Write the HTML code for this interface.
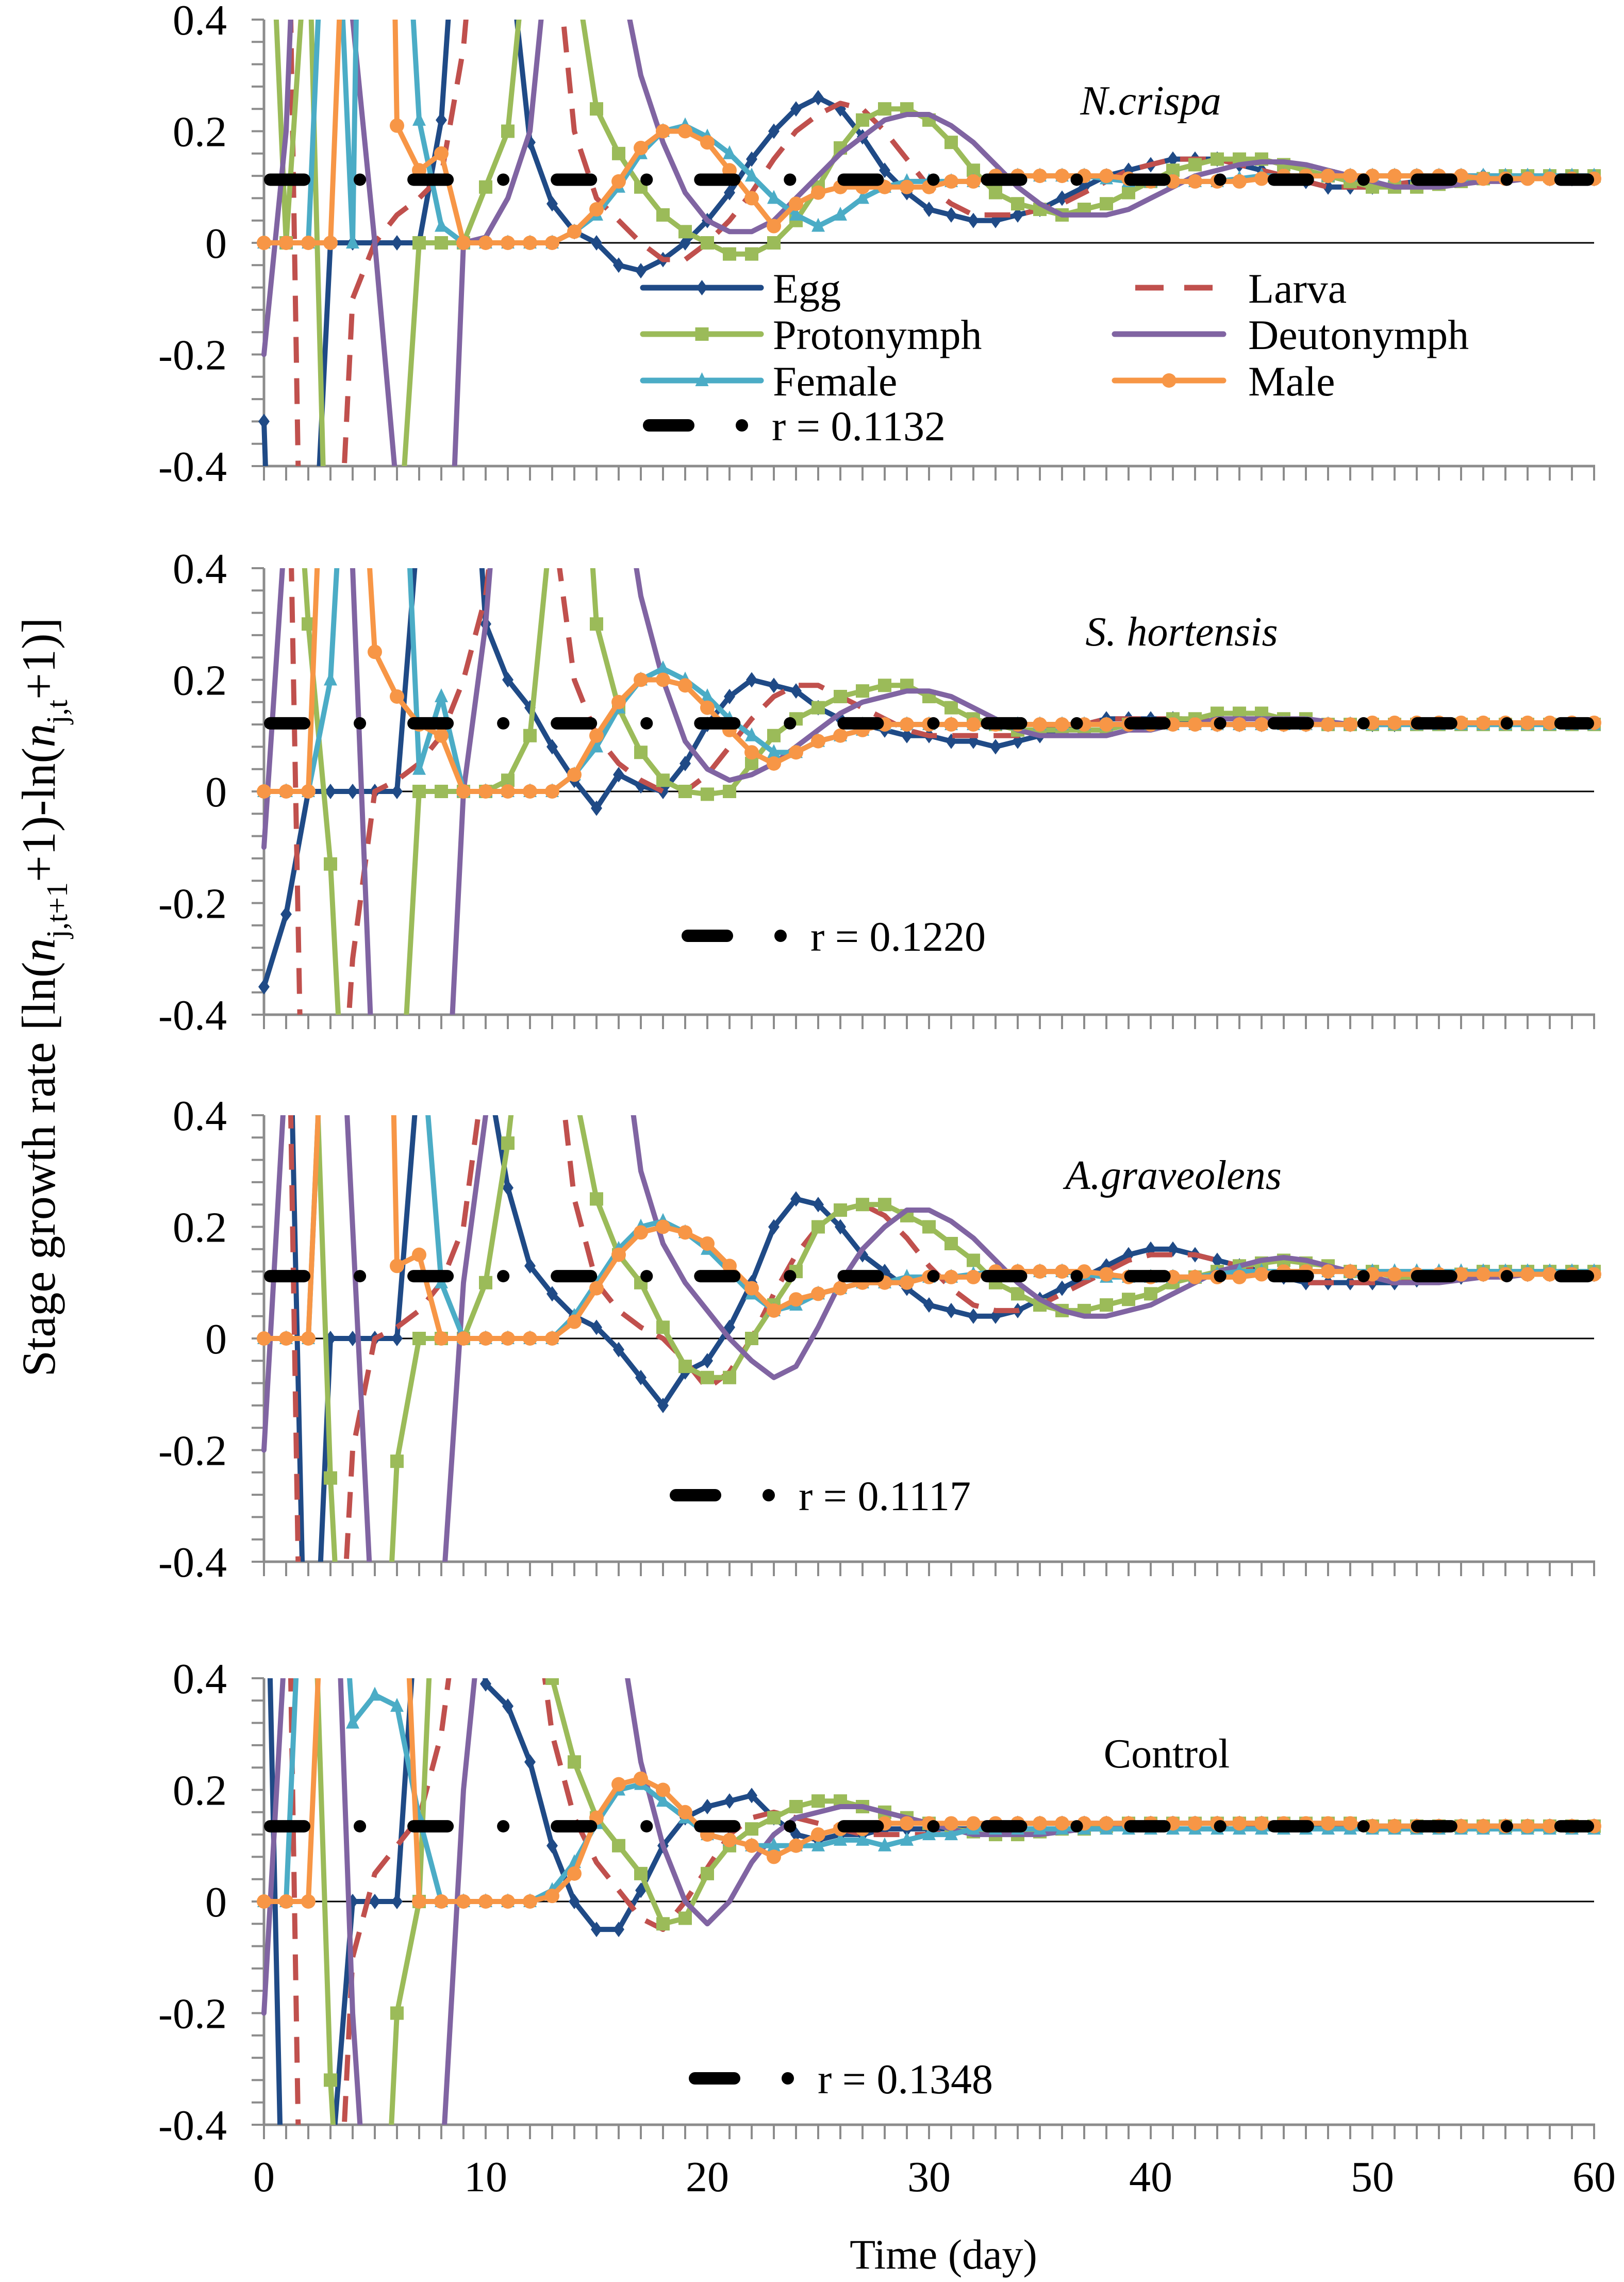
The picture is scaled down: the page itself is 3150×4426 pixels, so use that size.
<!DOCTYPE html>
<html><head><meta charset="utf-8">
<style>
html,body{margin:0;padding:0;background:#fff;width:3150px;height:4426px;overflow:hidden;}
svg{display:block;font-family:"Liberation Serif",serif;}
</style></head>
<body>
<svg id="chart" width="3150" height="4426" viewBox="0 0 3150 4426" xmlns="http://www.w3.org/2000/svg">
<text transform="translate(106,1934) rotate(-90)" text-anchor="middle" font-size="92" fill="#000">Stage growth rate [ln(<tspan font-style="italic">n</tspan><tspan font-size="58" dy="24">j,t+1</tspan><tspan dy="-24">+1)-ln(</tspan><tspan font-style="italic">n</tspan><tspan font-size="58" dy="24">j,t</tspan><tspan dy="-24">+1)]</tspan></text>
<text x="1830" y="4400" text-anchor="middle" font-size="82" fill="#000">Time (day)</text>
</svg>
<script>
const days = [0,1,2,3,4,5,6,7,8,9,10,11,12,13,14,15,16,17,18,19,20,21,22,23,24,25,26,27,28,29,30,31,32,33,34,35,36,37,38,39,40,41,42,43,44,45,46,47,48,49,50,51,52,53,54,55,56,57,58,59,60];
const panelTitles = ["N.crispa","S. hortensis","A.graveolens","Control"];
const rValues = [0.1132,0.1220,0.1117,0.1348];
const seriesNames = ["Egg","Larva","Protonymph","Deutonymph","Female","Male"];
const yTickLabels = [0.4,0.2,0,-0.2,-0.4];
const xTickLabels = [0,10,20,30,40,50,60];

// Panel 1: N. crispa
const egg1 = [-0.32,-1.5,-0.8,0,0,0,0,0,0.22,0.8, 0.9,0.55,0.18,0.07,0.02,0,-0.04,-0.05,-0.03,0, 0.04,0.09,0.15,0.2,0.24,0.26,0.24,0.19,0.13,0.09, 0.06,0.05,0.04,0.04,0.05,0.06,0.08,0.1,0.12,0.13, 0.14,0.15,0.15,0.15,0.14,0.13,0.12,0.11,0.1,0.1, 0.1,0.105,0.11,0.115,0.12,0.12,0.12,0.12,0.115,0.115,0.115];
const larva1 = [0.9,0.9,-1.5,-0.9,-0.1,0,0.05,0.08,0.12,0.35, 0.8,0.9,0.9,0.6,0.2,0.08,0.04,0,-0.03,-0.03, 0,0.04,0.09,0.15,0.2,0.23,0.25,0.24,0.2,0.15, 0.1,0.07,0.05,0.05,0.05,0.06,0.07,0.09,0.11,0.13, 0.14,0.15,0.15,0.15,0.14,0.13,0.12,0.11,0.1,0.1, 0.1,0.105,0.11,0.115,0.12,0.12,0.12,0.12,0.115,0.115,0.115];
const proto1 = [0.9,0,0.6,-0.9,-1,-1,-0.6,0,0,0, 0.1,0.2,0.6,0.9,0.5,0.24,0.16,0.1,0.05,0.02, 0,-0.02,-0.02,0,0.04,0.1,0.17,0.22,0.24,0.24, 0.22,0.18,0.13,0.09,0.07,0.06,0.05,0.06,0.07,0.09, 0.11,0.13,0.14,0.15,0.15,0.15,0.14,0.13,0.12,0.11, 0.1,0.1,0.1,0.105,0.11,0.115,0.12,0.12,0.12,0.12,0.12];
const deut1 = [-0.2,0.2,1.2,1.5,0.4,0,-0.45,-1.2,-1,0, 0.01,0.08,0.2,0.6,0.9,0.9,0.5,0.3,0.18,0.09, 0.04,0.02,0.02,0.04,0.08,0.12,0.16,0.19,0.22,0.23, 0.23,0.21,0.18,0.14,0.1,0.07,0.05,0.05,0.05,0.06, 0.08,0.1,0.12,0.13,0.14,0.145,0.145,0.14,0.13,0.12, 0.11,0.1,0.1,0.1,0.105,0.11,0.11,0.115,0.12,0.12,0.12];
const fem1 = [0,0,0,0.9,0,2.5,0.9,0.22,0.03,0, 0,0,0,0,0.02,0.05,0.1,0.16,0.2,0.21, 0.19,0.16,0.12,0.08,0.05,0.03,0.05,0.08,0.1,0.11, 0.11,0.11,0.11,0.12,0.12,0.12,0.12,0.12,0.115,0.11, 0.11,0.11,0.11,0.11,0.115,0.12,0.12,0.12,0.12,0.12, 0.12,0.12,0.12,0.12,0.12,0.12,0.12,0.12,0.12,0.12,0.12];
const male1 = [0,0,0,0,1.0,2.5,0.21,0.13,0.16,0, 0,0,0,0,0.02,0.06,0.11,0.17,0.2,0.2, 0.18,0.13,0.08,0.03,0.07,0.09,0.1,0.1,0.1,0.1, 0.1,0.11,0.11,0.12,0.12,0.12,0.12,0.12,0.12,0.115, 0.11,0.11,0.11,0.11,0.11,0.115,0.12,0.12,0.12,0.12, 0.12,0.12,0.12,0.12,0.12,0.115,0.115,0.115,0.115,0.115,0.115];

// Panel 2: S. hortensis
const egg2 = [-0.35,-0.22,0,0,0,0,0,0.5,0.9,0.9, 0.3,0.2,0.15,0.08,0.02,-0.03,0.03,0.01,0,0.05, 0.12,0.17,0.2,0.19,0.18,0.15,0.13,0.12,0.11,0.1, 0.1,0.09,0.09,0.08,0.09,0.1,0.11,0.12,0.13,0.13, 0.13,0.13,0.125,0.12,0.12,0.12,0.12,0.12,0.12,0.12, 0.12,0.12,0.122,0.122,0.122,0.122,0.122,0.122,0.122,0.122,0.122];
const larva2 = [0.9,0.9,-1.2,-0.9,-0.3,0,0.02,0.05,0.1,0.2, 0.35,0.7,0.9,0.5,0.2,0.1,0.05,0.02,0,0, 0.03,0.08,0.13,0.17,0.19,0.19,0.17,0.15,0.13,0.11, 0.1,0.1,0.1,0.1,0.1,0.11,0.12,0.12,0.13,0.13, 0.13,0.13,0.13,0.125,0.12,0.12,0.12,0.12,0.12,0.12, 0.12,0.12,0.122,0.122,0.122,0.122,0.122,0.122,0.122,0.122,0.122];
const proto2 = [0.9,0.9,0.3,-0.13,-0.9,-1,-0.7,0,0,0, 0,0.02,0.1,0.5,0.9,0.3,0.15,0.07,0.02,0, -0.005,0,0.05,0.1,0.13,0.15,0.17,0.18,0.19,0.19, 0.17,0.15,0.13,0.12,0.11,0.11,0.11,0.11,0.11,0.12, 0.12,0.13,0.13,0.14,0.14,0.14,0.13,0.13,0.12,0.12, 0.12,0.12,0.12,0.12,0.12,0.12,0.12,0.12,0.12,0.12,0.12];
const deut2 = [-0.1,0.5,1.2,1.2,0.4,-0.6,-1.2,-1,-0.8,0, 0.3,0.8,0.9,0.9,0.9,0.9,0.6,0.35,0.2,0.09, 0.04,0.02,0.03,0.05,0.08,0.11,0.14,0.16,0.17,0.18, 0.18,0.17,0.15,0.13,0.11,0.1,0.1,0.1,0.1,0.11, 0.11,0.12,0.12,0.13,0.13,0.13,0.13,0.13,0.125,0.12, 0.12,0.12,0.12,0.12,0.12,0.12,0.12,0.12,0.12,0.12,0.12];
const fem2 = [0,0,0,0.2,0.9,0.9,0.9,0.04,0.17,0, 0,0,0,0,0.03,0.08,0.15,0.2,0.22,0.2, 0.17,0.13,0.1,0.07,0.07,0.09,0.1,0.11,0.12,0.12, 0.12,0.12,0.12,0.12,0.12,0.12,0.12,0.12,0.12,0.12, 0.12,0.12,0.12,0.12,0.12,0.12,0.12,0.12,0.12,0.12, 0.12,0.12,0.12,0.12,0.12,0.12,0.12,0.12,0.12,0.12,0.12];
const male2 = [0,0,0,1.0,0.9,0.25,0.17,0.12,0.1,0, 0,0,0,0,0.03,0.1,0.16,0.2,0.2,0.19, 0.15,0.11,0.07,0.05,0.07,0.09,0.1,0.11,0.12,0.12, 0.12,0.12,0.12,0.12,0.12,0.12,0.12,0.12,0.12,0.12, 0.12,0.12,0.12,0.12,0.12,0.12,0.12,0.12,0.12,0.12, 0.123,0.123,0.123,0.123,0.123,0.123,0.123,0.123,0.123,0.123,0.123];

// Panel 3: A. graveolens
const egg3 = [0.9,0.9,-0.9,0,0,0,0,0.5,0.9,0.9, 0.5,0.27,0.13,0.08,0.04,0.02,-0.02,-0.07,-0.12,-0.06, -0.04,0.02,0.1,0.2,0.25,0.24,0.2,0.15,0.12,0.09, 0.06,0.05,0.04,0.04,0.05,0.07,0.09,0.11,0.13,0.15, 0.16,0.16,0.15,0.14,0.13,0.12,0.11,0.1,0.1,0.1, 0.1,0.1,0.105,0.11,0.11,0.115,0.115,0.115,0.115,0.115,0.115];
const larva3 = [0.9,0.9,-1.5,-0.9,-0.2,0,0.02,0.05,0.1,0.2, 0.5,0.9,0.9,0.6,0.25,0.1,0.05,0.02,0,-0.04, -0.09,-0.06,0,0.08,0.15,0.2,0.23,0.24,0.22,0.18, 0.13,0.09,0.06,0.05,0.05,0.06,0.08,0.1,0.12,0.14, 0.15,0.15,0.15,0.14,0.13,0.12,0.11,0.1,0.1,0.1, 0.1,0.1,0.105,0.11,0.11,0.115,0.115,0.115,0.115,0.115,0.115];
const proto3 = [0.9,0.9,0.9,-0.25,-1,-1,-0.22,0,0,0, 0.1,0.35,0.7,0.9,0.45,0.25,0.15,0.1,0.02,-0.05, -0.07,-0.07,0,0.06,0.12,0.2,0.23,0.24,0.24,0.22, 0.2,0.17,0.14,0.1,0.08,0.06,0.05,0.05,0.06,0.07, 0.08,0.1,0.11,0.12,0.13,0.135,0.14,0.135,0.13,0.12, 0.12,0.11,0.11,0.11,0.115,0.12,0.12,0.12,0.12,0.12,0.12];
const deut3 = [-0.2,0.5,1.2,1,0.2,-0.6,-1.2,-1,-0.5,0.1, 0.4,0.9,0.9,0.9,0.9,0.9,0.6,0.3,0.17,0.1, 0.05,0,-0.04,-0.07,-0.05,0.02,0.1,0.16,0.2,0.23, 0.23,0.21,0.18,0.14,0.1,0.07,0.05,0.04,0.04,0.05, 0.06,0.08,0.1,0.12,0.13,0.14,0.145,0.14,0.13,0.12, 0.11,0.1,0.1,0.1,0.105,0.11,0.11,0.115,0.115,0.115,0.115];
const fem3 = [0,0,0,0.9,0.9,0.9,0.9,0.6,0.1,0, 0,0,0,0,0.04,0.1,0.16,0.2,0.21,0.19, 0.16,0.12,0.08,0.05,0.06,0.08,0.09,0.1,0.1,0.11, 0.11,0.11,0.115,0.12,0.12,0.12,0.12,0.115,0.11,0.11, 0.11,0.11,0.11,0.115,0.12,0.12,0.12,0.12,0.12,0.12, 0.12,0.12,0.12,0.12,0.12,0.12,0.12,0.12,0.12,0.12,0.12];
const male3 = [0,0,0,0.9,0.9,2.0,0.13,0.15,0,0, 0,0,0,0,0.03,0.09,0.15,0.19,0.2,0.19, 0.17,0.13,0.09,0.05,0.07,0.08,0.09,0.1,0.1,0.1, 0.11,0.11,0.11,0.12,0.12,0.12,0.12,0.12,0.115,0.11, 0.11,0.11,0.11,0.11,0.11,0.115,0.12,0.12,0.12,0.12, 0.115,0.115,0.115,0.115,0.115,0.115,0.115,0.115,0.115,0.115,0.115];

// Panel 4: Control
const egg4 = [0.9,-0.9,-1.2,-0.5,0,0,0,0.6,0.9,0.9, 0.39,0.35,0.25,0.1,0,-0.05,-0.05,0.02,0.1,0.15, 0.17,0.18,0.19,0.15,0.12,0.11,0.12,0.12,0.13,0.13, 0.13,0.13,0.13,0.135,0.14,0.14,0.14,0.14,0.14,0.14, 0.14,0.14,0.14,0.14,0.14,0.14,0.135,0.135,0.135,0.135, 0.135,0.135,0.135,0.135,0.135,0.135,0.135,0.135,0.135,0.135,0.135];
const larva4 = [0.9,0.9,-1.5,-0.9,-0.1,0.05,0.1,0.15,0.3,0.6, 0.9,0.9,0.6,0.3,0.15,0.07,0.02,-0.03,-0.05,0, 0.06,0.12,0.15,0.16,0.15,0.14,0.13,0.12,0.12,0.12, 0.12,0.125,0.13,0.13,0.135,0.14,0.14,0.14,0.14,0.14, 0.14,0.14,0.14,0.14,0.135,0.135,0.135,0.135,0.135,0.135, 0.135,0.135,0.135,0.135,0.135,0.135,0.135,0.135,0.135,0.135,0.135];
const proto4 = [0.9,0.9,0.9,-0.32,-1,-1,-0.2,0,0.9,0.9, 0.9,0.9,0.9,0.4,0.25,0.15,0.1,0.05,-0.04,-0.03, 0.05,0.1,0.13,0.15,0.17,0.18,0.18,0.17,0.16,0.15, 0.14,0.13,0.125,0.12,0.12,0.125,0.13,0.13,0.135,0.14, 0.14,0.14,0.14,0.14,0.14,0.14,0.14,0.14,0.14,0.14, 0.135,0.135,0.135,0.135,0.135,0.135,0.135,0.135,0.135,0.135,0.135];
const deut4 = [-0.2,0.5,1.2,0.9,-0.2,-0.8,-1.2,-0.9,-0.5,0.2, 0.6,0.9,0.9,0.9,0.9,0.9,0.5,0.25,0.1,0, -0.04,0,0.07,0.12,0.15,0.16,0.17,0.17,0.16,0.15, 0.14,0.13,0.12,0.12,0.12,0.12,0.125,0.13,0.13,0.135, 0.14,0.14,0.14,0.14,0.14,0.14,0.14,0.14,0.14,0.14, 0.135,0.135,0.135,0.135,0.135,0.135,0.135,0.135,0.135,0.135,0.135];
const fem4 = [0,0,0.9,0.9,0.32,0.37,0.35,0.15,0,0, 0,0,0,0.02,0.07,0.14,0.2,0.21,0.18,0.15, 0.12,0.11,0.1,0.1,0.1,0.1,0.11,0.11,0.1,0.11, 0.12,0.12,0.13,0.13,0.13,0.13,0.13,0.13,0.13,0.13, 0.13,0.13,0.13,0.13,0.13,0.13,0.13,0.13,0.13,0.13, 0.13,0.13,0.13,0.13,0.13,0.13,0.13,0.13,0.13,0.13,0.13];
const male4 = [0,0,0,0.9,2,2,0.9,0,0,0, 0,0,0,0.01,0.05,0.15,0.21,0.22,0.2,0.16, 0.12,0.11,0.1,0.08,0.1,0.12,0.13,0.13,0.14,0.14, 0.14,0.14,0.14,0.14,0.14,0.14,0.14,0.14,0.14,0.14, 0.14,0.14,0.14,0.14,0.14,0.14,0.14,0.14,0.14,0.14, 0.135,0.135,0.135,0.135,0.135,0.135,0.135,0.135,0.135,0.135,0.135];

const panelSeries = [
  [egg1,larva1,proto1,deut1,fem1,male1],
  [egg2,larva2,proto2,deut2,fem2,male2],
  [egg3,larva3,proto3,deut3,fem3,male3],
  [egg4,larva4,proto4,deut4,fem4,male4]
];

// layout / style (not data)
const NS = 'http://www.w3.org/2000/svg';
const svg = document.getElementById('chart');
const panelTop = [38,1102,2163,3255];
const panelH = 866;
const X0 = 512, DX = 43;
const colors = ['#1f4a86','#c0504d','#9bbb59','#8064a2','#4bacc6','#f79646'];
const markers = ['diamond',null,'square',null,'triangle','circle'];
const slugs = ['egg','larva','protonymph','deutonymph','female','male'];
const titleX = [2232,2292,2276,2263];
const titleY = [222,1252,2306,3428];
const titleItalic = [true,true,true,false];

function xPos(d){ return X0 + DX*d; }
function yPos(p,v){ return panelTop[p] + (0.4 - v)/0.8*panelH; }

function el(tag, parent){ const e = document.createElementNS(NS, tag); parent.appendChild(e); return e; }

function drawMarker(type, cx, cy, color, parent){
  let m;
  if(type==='diamond'){
    m = el('polygon', parent);
    m.setAttribute('points', `${cx},${cy-15} ${cx+11},${cy} ${cx},${cy+15} ${cx-11},${cy}`);
  } else if(type==='square'){
    m = el('rect', parent);
    m.setAttribute('x', cx-13); m.setAttribute('y', cy-13);
    m.setAttribute('width', 26); m.setAttribute('height', 26);
  } else if(type==='triangle'){
    m = el('polygon', parent);
    m.setAttribute('points', `${cx},${cy-16} ${cx+13},${cy+11} ${cx-13},${cy+11}`);
  } else {
    m = el('circle', parent);
    m.setAttribute('cx', cx); m.setAttribute('cy', cy); m.setAttribute('r', 14);
  }
  m.setAttribute('fill', color);
  
  
  return m;
}

const defs = el('defs', svg);

for(let p=0;p<4;p++){
  const g = el('g', svg);
  
  
  const top = panelTop[p], bot = top + panelH;

  const cp = el('clipPath', defs);
  cp.setAttribute('id', 'clip'+p);
  const cr = el('rect', cp);
  cr.setAttribute('x', X0-20); cr.setAttribute('y', top);
  cr.setAttribute('width', xPos(60)-X0+40); cr.setAttribute('height', panelH);

  const ya = el('line', g);
  
  
  ya.setAttribute('x1', X0); ya.setAttribute('x2', X0); ya.setAttribute('y1', top); ya.setAttribute('y2', bot);
  ya.setAttribute('stroke', '#8c8c8c'); ya.setAttribute('stroke-width', 5);
  for(let k=0;k<=20;k++){
    const v = 0.4 - k*0.04;
    const t = el('line', g);
    
    
    t.setAttribute('x1', X0-24); t.setAttribute('x2', X0); t.setAttribute('y1', yPos(p,v)); t.setAttribute('y2', yPos(p,v));
    t.setAttribute('stroke', '#8c8c8c'); t.setAttribute('stroke-width', 4);
  }
  yTickLabels.forEach(v=>{
    const t = el('text', g);
    
    
    t.setAttribute('x', 440); t.setAttribute('y', yPos(p,v)+29);
    t.setAttribute('text-anchor', 'end'); t.setAttribute('font-size', 84);
    t.textContent = String(v);
  });
  const xa = el('line', g);
  
  
  xa.setAttribute('x1', X0-2); xa.setAttribute('x2', xPos(60)+2); xa.setAttribute('y1', bot); xa.setAttribute('y2', bot);
  xa.setAttribute('stroke', '#8c8c8c'); xa.setAttribute('stroke-width', 5);
  days.forEach(d=>{
    const t = el('line', g);
    
    
    t.setAttribute('x1', xPos(d)); t.setAttribute('x2', xPos(d)); t.setAttribute('y1', bot); t.setAttribute('y2', bot+28);
    t.setAttribute('stroke', '#8c8c8c'); t.setAttribute('stroke-width', 4);
  });
  const z = el('line', g);
  
  
  z.setAttribute('x1', X0); z.setAttribute('x2', xPos(60)); z.setAttribute('y1', yPos(p,0)); z.setAttribute('y2', yPos(p,0));
  z.setAttribute('stroke', '#000'); z.setAttribute('stroke-width', 3);

  const sg = el('g', g);
  sg.setAttribute('clip-path', 'url(#clip'+p+')');
  
  
  panelSeries[p].forEach((vals, s)=>{
    const pts = days.map((d,i)=> xPos(d).toFixed(1)+','+yPos(p, vals[i]).toFixed(1)).join(' ');
    const pl = el('polyline', sg);
    
    
    pl.setAttribute('points', pts);
    pl.setAttribute('fill', 'none');
    pl.setAttribute('stroke', colors[s]);
    pl.setAttribute('stroke-width', 10);
    pl.setAttribute('stroke-linejoin', 'round');
    if(s===1){ pl.setAttribute('stroke-dasharray', '50 30'); }
    else { pl.setAttribute('stroke-linecap', 'round'); }
    if(markers[s]){
      days.forEach((d,i)=>{
        const v = vals[i];
        if(v <= 0.42 && v >= -0.42){
          drawMarker(markers[s], xPos(d), yPos(p,v), colors[s], sg);
        }
      });
    }
  });
  const rl = el('line', g);
  
  
  rl.setAttribute('x1', X0+12); rl.setAttribute('x2', xPos(60)-12);
  rl.setAttribute('y1', yPos(p, rValues[p])); rl.setAttribute('y2', yPos(p, rValues[p]));
  rl.setAttribute('stroke', '#000'); rl.setAttribute('stroke-width', 24);
  rl.setAttribute('stroke-linecap', 'round');
  rl.setAttribute('stroke-dasharray', '66 108 0.1 104');

  const tt = el('text', g);
  
  
  tt.setAttribute('x', titleX[p]); tt.setAttribute('y', titleY[p]);
  tt.setAttribute('text-anchor', 'middle'); tt.setAttribute('font-size', 80);
  if(titleItalic[p]) tt.setAttribute('font-style', 'italic');
  tt.textContent = panelTitles[p];
}

xTickLabels.forEach(v=>{
  const t = el('text', svg);
  
  
  t.setAttribute('x', xPos(v)); t.setAttribute('y', 4250);
  t.setAttribute('text-anchor', 'middle'); t.setAttribute('font-size', 84);
  t.textContent = String(v);
});

const leg = el('g', svg);


const legCol = [[1247,1476,1499],[2162,2373,2421]];
const legRowY = [558,648,738];
seriesNames.forEach((name, s)=>{
  const col = legCol[s%2], y = legRowY[Math.floor(s/2)];
  const ln = el('line', leg);
  
  
  ln.setAttribute('x1', col[0]); ln.setAttribute('x2', col[1]); ln.setAttribute('y1', y); ln.setAttribute('y2', y);
  ln.setAttribute('stroke', colors[s]); ln.setAttribute('stroke-width', 11);
  if(s===1){ ln.setAttribute('stroke-dasharray', '55 40'); ln.setAttribute('x1', col[0]+40); }
  else ln.setAttribute('stroke-linecap', 'round');
  if(markers[s]) drawMarker(markers[s], (col[0]+col[1])/2, y, colors[s], leg);
  const tx = el('text', leg);
  
  
  tx.setAttribute('x', col[2]); tx.setAttribute('y', y+29);
  tx.setAttribute('font-size', 82);
  tx.textContent = name;
});

const rLeg = [[1247,825],[1322,1815],[1299,2900],[1336,4031]];
rLeg.forEach((pos, p)=>{
  const gx = pos[0], gy = pos[1];
  const d = el('line', svg);
  
  
  d.setAttribute('x1', gx+12); d.setAttribute('x2', gx+88); d.setAttribute('y1', gy); d.setAttribute('y2', gy);
  d.setAttribute('stroke', '#000'); d.setAttribute('stroke-width', 24); d.setAttribute('stroke-linecap', 'round');
  const c = el('circle', svg);
  
  
  c.setAttribute('cx', gx+192); c.setAttribute('cy', gy); c.setAttribute('r', 12); c.setAttribute('fill', '#000');
  const t = el('text', svg);
  
  
  t.setAttribute('x', gx+250); t.setAttribute('y', gy+29); t.setAttribute('font-size', 82);
  t.textContent = 'r = ' + rValues[p].toFixed(4);
});
</script>
</body></html>
